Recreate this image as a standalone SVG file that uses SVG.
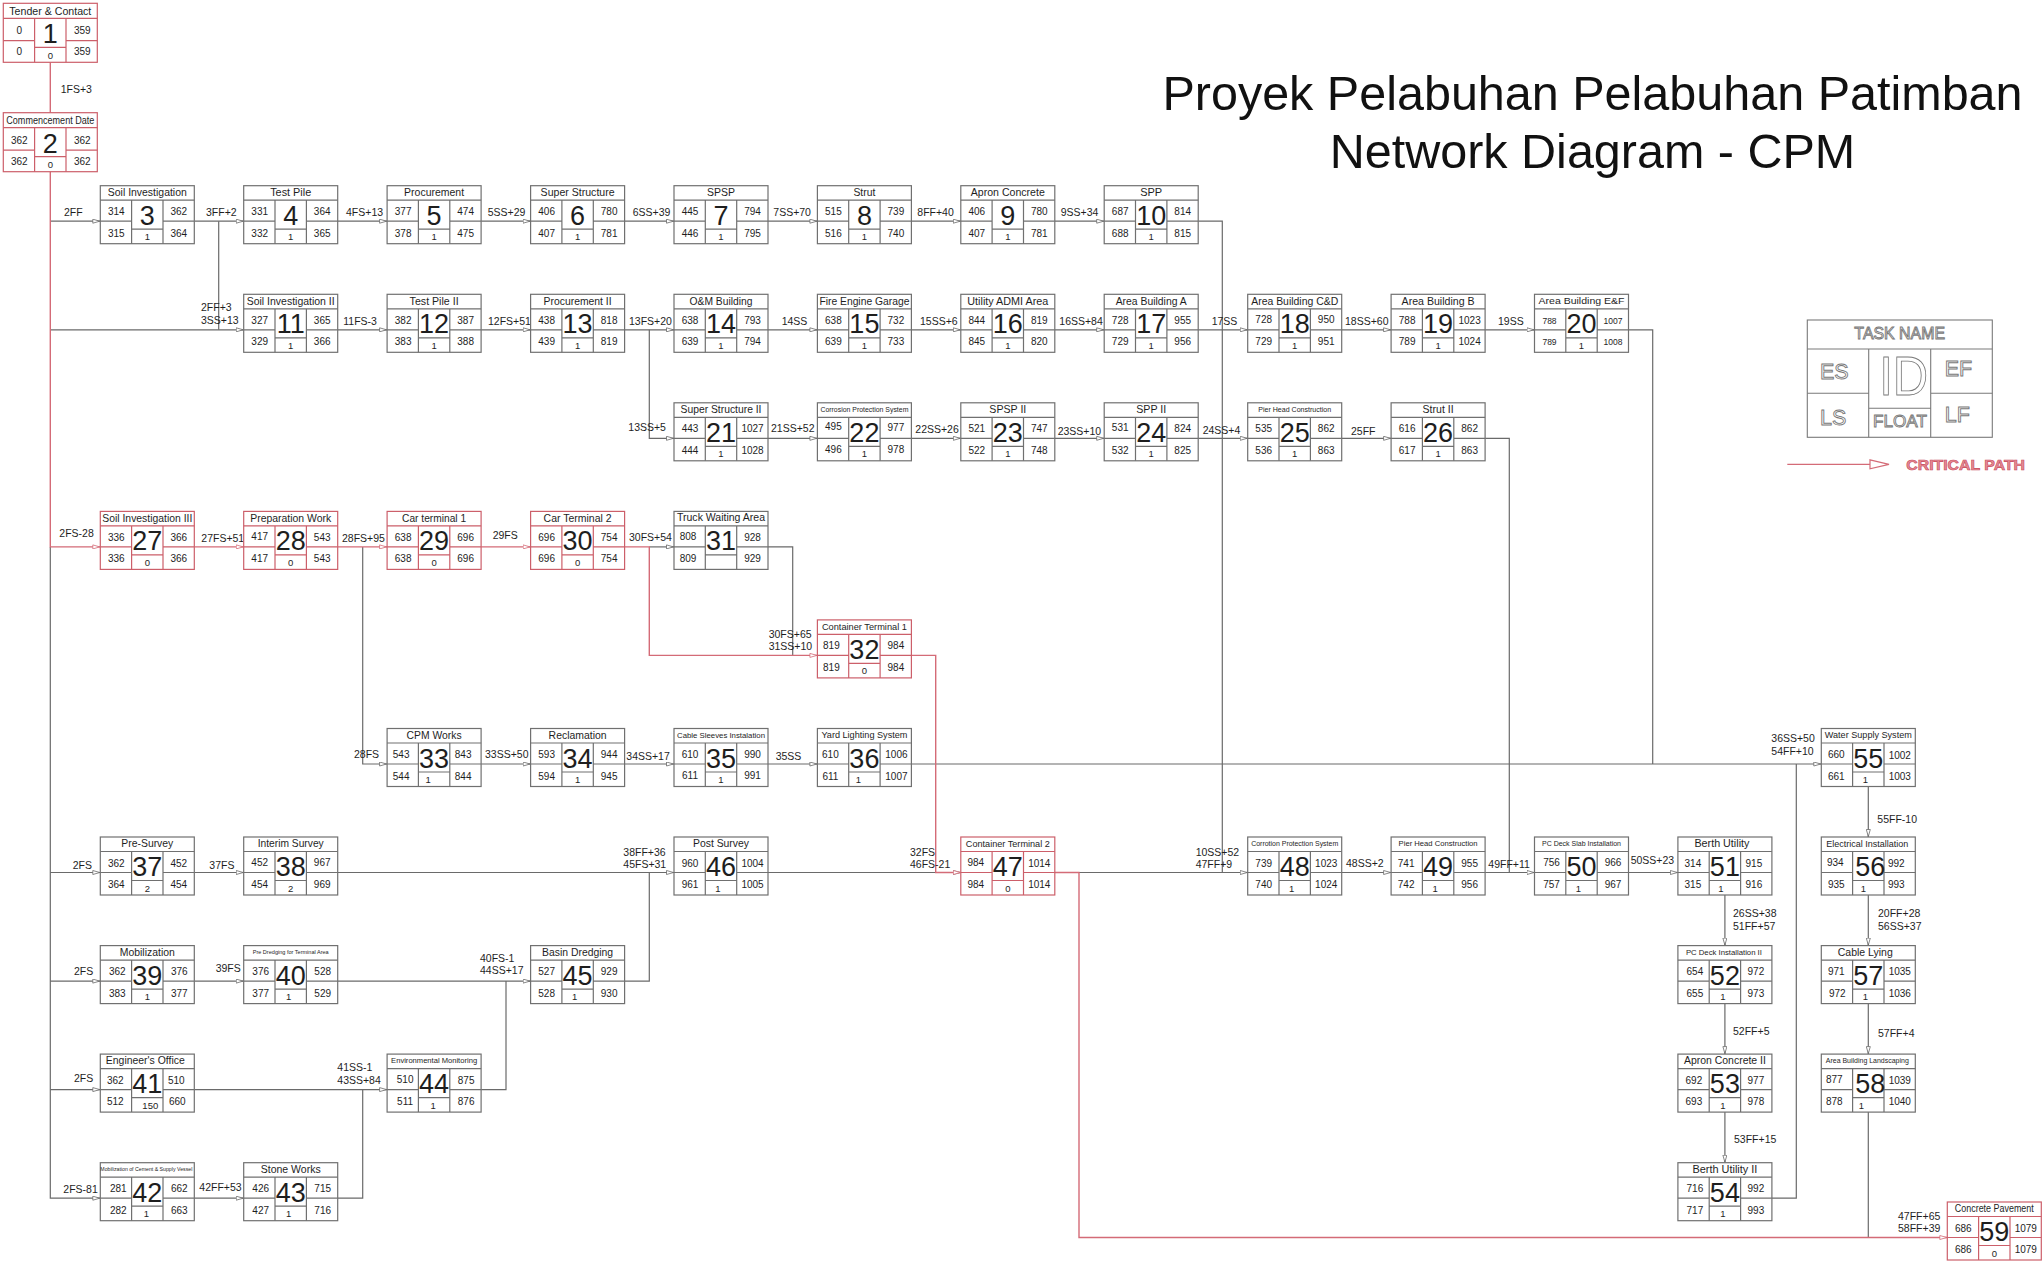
<svg xmlns="http://www.w3.org/2000/svg" width="2044" height="1271" viewBox="0 0 2044 1271">
<style>
text{font-family:"Liberation Sans",Arial,sans-serif;fill:#1e1e1e;stroke:none}
.f{fill:#fff;stroke:#707070;stroke-width:1.2}
.f.cr{stroke:#cc5f6a}
.k{fill:none;stroke:#6a6a6a;stroke-width:1.2}
.r{fill:none;stroke:#d46b77;stroke-width:1.4}
.t{font-size:10.5px;text-anchor:middle}
.v{font-size:10px;text-anchor:middle}
.id{font-size:27px;text-anchor:middle}
.fl{font-size:9.5px;text-anchor:middle}
.lb{font-size:10.5px}
.ttl{font-size:48.5px;text-anchor:middle;fill:#111}
.hol{fill:#fff;stroke:#777;stroke-width:0.9}
</style>
<defs>
<!-- standard activity box: title row, ES/EF, LS/LF, ID and float cells -->
<g id="fr">
<rect width="94" height="58"/>
<path d="M0 14.5H94M31.3 14.5V58M62.7 14.5V58M0 35.5H31.3M62.7 35.5H94M31.3 43.5H62.7" fill="none"/>
</g>
<g id="fr2">
<rect width="94" height="59"/>
<path d="M0 15H94M31.3 15V59M62.7 15V59M0 37.4H31.3M62.7 37.4H94M31.3 44H62.7" fill="none"/>
</g>
<marker id="ak" viewBox="0 0 8 5" refX="8" refY="2.5" markerWidth="8" markerHeight="5" orient="auto" markerUnits="userSpaceOnUse"><path d="M0.5 0.5L7.5 2.5L0.5 4.5Z" fill="#fff" stroke="#6a6a6a" stroke-width="0.8"/></marker>
<marker id="ar" viewBox="0 0 8 5" refX="8" refY="2.5" markerWidth="8" markerHeight="5" orient="auto" markerUnits="userSpaceOnUse"><path d="M0.5 0.5L7.5 2.5L0.5 4.5Z" fill="#fff" stroke="#d46b77" stroke-width="0.8"/></marker>
</defs>
<rect width="2044" height="1271" fill="#fff"/>

<!-- heading -->
<g id="heading">
<text class="ttl" x="1592.5" y="110">Proyek Pelabuhan Pelabuhan Patimban</text>
<text class="ttl" x="1592.5" y="168">Network Diagram - CPM</text>
</g>

<!-- dependency links -->
<g id="connectors">
<path class="k" d="M50.3 546.9V1198.2H100.3" marker-end="url(#ak)"/>
<path class="k" d="M50.3 221.2H100.3" marker-end="url(#ak)"/>
<path class="k" d="M50.3 329.8H243.7" marker-end="url(#ak)"/>
<path class="k" d="M50.3 872.5H100.3" marker-end="url(#ak)"/>
<path class="k" d="M50.3 981.1H100.3" marker-end="url(#ak)"/>
<path class="k" d="M50.3 1089.6H100.3" marker-end="url(#ak)"/>
<path class="k" d="M194.3 221.2H243.7" marker-end="url(#ak)"/>
<path class="k" d="M218.7 221.2V329.8"/>
<path class="k" d="M337.7 221.2H387.1" marker-end="url(#ak)"/>
<path class="k" d="M481.1 221.2H530.6" marker-end="url(#ak)"/>
<path class="k" d="M624.6 221.2H674" marker-end="url(#ak)"/>
<path class="k" d="M768 221.2H817.4" marker-end="url(#ak)"/>
<path class="k" d="M911.4 221.2H960.8" marker-end="url(#ak)"/>
<path class="k" d="M1054.8 221.2H1104.2" marker-end="url(#ak)"/>
<path class="k" d="M1198.2 221.2H1222.3V872.5"/>
<path class="k" d="M337.7 329.8H387.1" marker-end="url(#ak)"/>
<path class="k" d="M481.1 329.8H530.6" marker-end="url(#ak)"/>
<path class="k" d="M624.6 329.8H674" marker-end="url(#ak)"/>
<path class="k" d="M649.3 329.8V438.3H674" marker-end="url(#ak)"/>
<path class="k" d="M768 329.8H817.4" marker-end="url(#ak)"/>
<path class="k" d="M911.4 329.8H960.8" marker-end="url(#ak)"/>
<path class="k" d="M1054.8 329.8H1104.2" marker-end="url(#ak)"/>
<path class="k" d="M1198.2 329.8H1247.7" marker-end="url(#ak)"/>
<path class="k" d="M1341.7 329.8H1391.1" marker-end="url(#ak)"/>
<path class="k" d="M1485.1 329.8H1534.5" marker-end="url(#ak)"/>
<path class="k" d="M1628.5 329.8H1652.7V764"/>
<path class="k" d="M768 438.3H817.4" marker-end="url(#ak)"/>
<path class="k" d="M911.4 438.3H960.8" marker-end="url(#ak)"/>
<path class="k" d="M1054.8 438.3H1104.2" marker-end="url(#ak)"/>
<path class="k" d="M1198.2 438.3H1247.7" marker-end="url(#ak)"/>
<path class="k" d="M1341.7 438.3H1391.1" marker-end="url(#ak)"/>
<path class="k" d="M1485.1 438.3H1509.3V872.5"/>
<path class="k" d="M649.3 546.9H674" marker-end="url(#ak)"/>
<path class="k" d="M768 546.9H792.7V655.4"/>
<path class="k" d="M362.7 546.9V764H387.1" marker-end="url(#ak)"/>
<path class="k" d="M481.1 764H530.6" marker-end="url(#ak)"/>
<path class="k" d="M624.6 764H674" marker-end="url(#ak)"/>
<path class="k" d="M768 764H817.4" marker-end="url(#ak)"/>
<path class="k" d="M911.4 764H1821.3" marker-end="url(#ak)"/>
<path class="k" d="M194.3 872.5H243.7" marker-end="url(#ak)"/>
<path class="k" d="M337.7 872.5H674" marker-end="url(#ak)"/>
<path class="k" d="M624.6 981.1H649.3V872.5"/>
<path class="k" d="M768 872.5H960.8" marker-end="url(#ak)"/>
<path class="k" d="M1079 872.5H1247.7" marker-end="url(#ak)"/>
<path class="k" d="M1341.7 872.5H1391.1" marker-end="url(#ak)"/>
<path class="k" d="M1485.1 872.5H1534.5" marker-end="url(#ak)"/>
<path class="k" d="M1628.5 872.5H1677.9" marker-end="url(#ak)"/>
<path class="k" d="M1724.9 895V945.6" marker-end="url(#ak)"/>
<path class="k" d="M1724.9 1003.6V1054.1" marker-end="url(#ak)"/>
<path class="k" d="M1724.9 1112.1V1162.7" marker-end="url(#ak)"/>
<path class="k" d="M1771.9 1198.2H1796.3V764"/>
<path class="k" d="M1868.3 786.5V837" marker-end="url(#ak)"/>
<path class="k" d="M1868.3 895V945.6" marker-end="url(#ak)"/>
<path class="k" d="M1868.3 1003.6V1054.1" marker-end="url(#ak)"/>
<path class="k" d="M1868.3 1112.1V1237.5"/>
<path class="k" d="M194.3 981.1H243.7" marker-end="url(#ak)"/>
<path class="k" d="M337.7 981.1H530.6" marker-end="url(#ak)"/>
<path class="k" d="M481.1 1089.6H506V981.1"/>
<path class="k" d="M194.3 1089.6H387.1" marker-end="url(#ak)"/>
<path class="k" d="M337.7 1198.2H362.7V1089.6"/>
<path class="k" d="M194.3 1198.2H243.7" marker-end="url(#ak)"/>
<!-- critical path -->
<path class="r" d="M50.3 62.3V112.7"/>
<path class="r" d="M50.3 171.3V546.9H100.3" marker-end="url(#ar)"/>
<path class="r" d="M194.3 546.9H243.7" marker-end="url(#ar)"/>
<path class="r" d="M337.7 546.9H387.1" marker-end="url(#ar)"/>
<path class="r" d="M481.1 546.9H530.6" marker-end="url(#ar)"/>
<path class="r" d="M624.6 546.9H649.3V655.4H817.4" marker-end="url(#ar)"/>
<path class="r" d="M911.4 655.4H935.7V872.5H960.8" marker-end="url(#ar)"/>
<path class="r" d="M1054.8 872.5H1079V1237.5H1947.3" marker-end="url(#ar)"/>
</g>

<!-- lag labels on the links -->
<g id="connector-labels" class="lb">
<text x="60.7" y="93">1FS+3</text>
<text x="64" y="215.5">2FF</text>
<text x="206" y="215.5">3FF+2</text>
<text x="346" y="215.5">4FS+13</text>
<text x="487.7" y="215.5">5SS+29</text>
<text x="632.7" y="215.5">6SS+39</text>
<text x="773.3" y="215.5">7SS+70</text>
<text x="917.3" y="215.5">8FF+40</text>
<text x="1060.7" y="215.5">9SS+34</text>
<text x="201" y="311">2FF+3</text>
<text x="201" y="324.4">3SS+13</text>
<text x="343.3" y="324.5">11FS-3</text>
<text x="488" y="324.5">12FS+51</text>
<text x="629" y="324.5">13FS+20</text>
<text x="781.7" y="324.5">14SS</text>
<text x="920" y="324.5">15SS+6</text>
<text x="1059.3" y="324.5">16SS+84</text>
<text x="1211.7" y="324.5">17SS</text>
<text x="1345" y="324.5">18SS+60</text>
<text x="1498" y="324.5">19SS</text>
<text x="628.3" y="431">13SS+5</text>
<text x="771" y="431.5">21SS+52</text>
<text x="915.3" y="433">22SS+26</text>
<text x="1057.7" y="434.5">23SS+10</text>
<text x="1202.7" y="433.5">24SS+4</text>
<text x="1351" y="435">25FF</text>
<text x="59.3" y="537">2FS-28</text>
<text x="201.3" y="542">27FS+51</text>
<text x="342" y="542">28FS+95</text>
<text x="492.7" y="538.7">29FS</text>
<text x="629" y="541">30FS+54</text>
<text x="768.7" y="637.7">30FS+65</text>
<text x="768.7" y="650.4">31SS+10</text>
<text x="354" y="758">28FS</text>
<text x="485" y="758">33SS+50</text>
<text x="626.3" y="759.7">34SS+17</text>
<text x="775.7" y="759.7">35SS</text>
<text x="1771.3" y="742">36SS+50</text>
<text x="1771.3" y="754.7">54FF+10</text>
<text x="1877.3" y="823">55FF-10</text>
<text x="72.7" y="868.7">2FS</text>
<text x="209.3" y="868.7">37FS</text>
<text x="623.3" y="855.7">38FF+36</text>
<text x="623.3" y="868">45FS+31</text>
<text x="910" y="855.7">32FS</text>
<text x="910" y="868">46FS-21</text>
<text x="1195.7" y="855.7">10SS+52</text>
<text x="1195.7" y="868">47FF+9</text>
<text x="1346" y="867.4">48SS+2</text>
<text x="1488.3" y="868">49FF+11</text>
<text x="1630.7" y="864">50SS+23</text>
<text x="1733" y="917.4">26SS+38</text>
<text x="1733" y="930">51FF+57</text>
<text x="1878" y="917.4">20FF+28</text>
<text x="1878" y="930">56SS+37</text>
<text x="74" y="974.7">2FS</text>
<text x="215.7" y="972.4">39FS</text>
<text x="480" y="962">40FS-1</text>
<text x="480" y="974">44SS+17</text>
<text x="1733" y="1034.7">52FF+5</text>
<text x="1878" y="1037">57FF+4</text>
<text x="74" y="1082.4">2FS</text>
<text x="337.3" y="1071.4">41SS-1</text>
<text x="337.3" y="1084">43SS+84</text>
<text x="1734" y="1143">53FF+15</text>
<text x="63.3" y="1193">2FS-81</text>
<text x="199.3" y="1191.4">42FF+53</text>
<text x="1898" y="1219.7">47FF+65</text>
<text x="1898" y="1232.4">58FF+39</text>
</g>

<!-- activities -->
<g id="nodes">
<g id="n1" transform="translate(3.3 3.3)"><use href="#fr2" class="f cr"/><text class="t" style="font-size:11px" x="47" y="12" textLength="82" lengthAdjust="spacingAndGlyphs">Tender &amp; Contact</text><text class="v" x="16" y="31">0</text><text class="v" x="79" y="31">359</text><text class="id" x="47" y="39.5">1</text><text class="v" x="16" y="52">0</text><text class="fl" x="47" y="55.5">0</text><text class="v" x="79" y="52">359</text></g>
<g id="n2" transform="translate(3.3 112.7)"><use href="#fr2" class="f cr"/><text class="t" style="font-size:10px" x="47" y="11.5" textLength="88" lengthAdjust="spacingAndGlyphs">Commencement Date</text><text class="v" x="16" y="31">362</text><text class="v" x="79" y="31">362</text><text class="id" x="47" y="40.5">2</text><text class="v" x="16" y="52.5">362</text><text class="fl" x="47" y="55.5">0</text><text class="v" x="79" y="52.5">362</text></g>

<g id="n3" transform="translate(100.3 185.7)"><use href="#fr" class="f"/><text class="t" x="47" y="10.3" textLength="79" lengthAdjust="spacingAndGlyphs">Soil Investigation</text><text class="v" x="16" y="29.5">314</text><text class="v" x="78.5" y="29.5">362</text><text class="id" x="47" y="39">3</text><text class="v" x="16" y="51">315</text><text class="fl" x="47" y="54.5">1</text><text class="v" x="78.5" y="51">364</text></g>
<g id="n4" transform="translate(243.7 185.7)"><use href="#fr" class="f"/><text class="t" x="47" y="10.3" textLength="41" lengthAdjust="spacingAndGlyphs">Test Pile</text><text class="v" x="16" y="29.5">331</text><text class="v" x="78.5" y="29.5">364</text><text class="id" x="47" y="39">4</text><text class="v" x="16" y="51">332</text><text class="fl" x="47" y="54.5">1</text><text class="v" x="78.5" y="51">365</text></g>
<g id="n5" transform="translate(387.1 185.7)"><use href="#fr" class="f"/><text class="t" x="47" y="10.3" textLength="60" lengthAdjust="spacingAndGlyphs">Procurement</text><text class="v" x="16" y="29.5">377</text><text class="v" x="78.5" y="29.5">474</text><text class="id" x="47" y="39">5</text><text class="v" x="16" y="51">378</text><text class="fl" x="47" y="54.5">1</text><text class="v" x="78.5" y="51">475</text></g>
<g id="n6" transform="translate(530.6 185.7)"><use href="#fr" class="f"/><text class="t" x="47" y="10.3" textLength="74" lengthAdjust="spacingAndGlyphs">Super Structure</text><text class="v" x="16" y="29.5">406</text><text class="v" x="78.5" y="29.5">780</text><text class="id" x="47" y="39">6</text><text class="v" x="16" y="51">407</text><text class="fl" x="47" y="54.5">1</text><text class="v" x="78.5" y="51">781</text></g>
<g id="n7" transform="translate(674 185.7)"><use href="#fr" class="f"/><text class="t" x="47" y="10.3" textLength="28" lengthAdjust="spacingAndGlyphs">SPSP</text><text class="v" x="16" y="29.5">445</text><text class="v" x="78.5" y="29.5">794</text><text class="id" x="47" y="39">7</text><text class="v" x="16" y="51">446</text><text class="fl" x="47" y="54.5">1</text><text class="v" x="78.5" y="51">795</text></g>
<g id="n8" transform="translate(817.4 185.7)"><use href="#fr" class="f"/><text class="t" x="47" y="10.3" textLength="22" lengthAdjust="spacingAndGlyphs">Strut</text><text class="v" x="16" y="29.5">515</text><text class="v" x="78.5" y="29.5">739</text><text class="id" x="47" y="39">8</text><text class="v" x="16" y="51">516</text><text class="fl" x="47" y="54.5">1</text><text class="v" x="78.5" y="51">740</text></g>
<g id="n9" transform="translate(960.8 185.7)"><use href="#fr" class="f"/><text class="t" x="47" y="10.3" textLength="74" lengthAdjust="spacingAndGlyphs">Apron Concrete</text><text class="v" x="16" y="29.5">406</text><text class="v" x="78.5" y="29.5">780</text><text class="id" x="47" y="39">9</text><text class="v" x="16" y="51">407</text><text class="fl" x="47" y="54.5">1</text><text class="v" x="78.5" y="51">781</text></g>
<g id="n10" transform="translate(1104.2 185.7)"><use href="#fr" class="f"/><text class="t" x="47" y="10.3" textLength="22" lengthAdjust="spacingAndGlyphs">SPP</text><text class="v" x="16" y="29.5">687</text><text class="v" x="78.5" y="29.5">814</text><text class="id" x="47" y="39">10</text><text class="v" x="16" y="51">688</text><text class="fl" x="47" y="54.5">1</text><text class="v" x="78.5" y="51">815</text></g>

<g id="n11" transform="translate(243.7 294.3)"><use href="#fr" class="f"/><text class="t" x="47" y="10.3" textLength="88" lengthAdjust="spacingAndGlyphs">Soil Investigation II</text><text class="v" x="16" y="29.5">327</text><text class="v" x="78.5" y="29.5">365</text><text class="id" x="47" y="39">11</text><text class="v" x="16" y="51">329</text><text class="fl" x="47" y="54.5">1</text><text class="v" x="78.5" y="51">366</text></g>
<g id="n12" transform="translate(387.1 294.3)"><use href="#fr" class="f"/><text class="t" x="47" y="10.3" textLength="49" lengthAdjust="spacingAndGlyphs">Test Pile II</text><text class="v" x="16" y="29.5">382</text><text class="v" x="78.5" y="29.5">387</text><text class="id" x="47" y="39">12</text><text class="v" x="16" y="51">383</text><text class="fl" x="47" y="54.5">1</text><text class="v" x="78.5" y="51">388</text></g>
<g id="n13" transform="translate(530.6 294.3)"><use href="#fr" class="f"/><text class="t" x="47" y="10.3" textLength="68" lengthAdjust="spacingAndGlyphs">Procurement II</text><text class="v" x="16" y="29.5">438</text><text class="v" x="78.5" y="29.5">818</text><text class="id" x="47" y="39">13</text><text class="v" x="16" y="51">439</text><text class="fl" x="47" y="54.5">1</text><text class="v" x="78.5" y="51">819</text></g>
<g id="n14" transform="translate(674 294.3)"><use href="#fr" class="f"/><text class="t" x="47" y="10.3" textLength="63" lengthAdjust="spacingAndGlyphs">O&amp;M Building</text><text class="v" x="16" y="29.5">638</text><text class="v" x="78.5" y="29.5">793</text><text class="id" x="47" y="39">14</text><text class="v" x="16" y="51">639</text><text class="fl" x="47" y="54.5">1</text><text class="v" x="78.5" y="51">794</text></g>
<g id="n15" transform="translate(817.4 294.3)"><use href="#fr" class="f"/><text class="t" x="47" y="10.3" textLength="90" lengthAdjust="spacingAndGlyphs">Fire Engine Garage</text><text class="v" x="16" y="29.5">638</text><text class="v" x="78.5" y="29.5">732</text><text class="id" x="47" y="39">15</text><text class="v" x="16" y="51">639</text><text class="fl" x="47" y="54.5">1</text><text class="v" x="78.5" y="51">733</text></g>
<g id="n16" transform="translate(960.8 294.3)"><use href="#fr" class="f"/><text class="t" x="47" y="10.8" textLength="81" lengthAdjust="spacingAndGlyphs">Utility ADMI Area</text><text class="v" x="16" y="29.5">844</text><text class="v" x="78.5" y="29.5">819</text><text class="id" x="47" y="39">16</text><text class="v" x="16" y="51">845</text><text class="fl" x="47" y="54.5">1</text><text class="v" x="78.5" y="51">820</text></g>
<g id="n17" transform="translate(1104.2 294.3)"><use href="#fr" class="f"/><text class="t" x="47" y="10.3" textLength="71" lengthAdjust="spacingAndGlyphs">Area Building A</text><text class="v" x="16" y="29.5">728</text><text class="v" x="78.5" y="29.5">955</text><text class="id" x="47" y="39">17</text><text class="v" x="16" y="51">729</text><text class="fl" x="47" y="54.5">1</text><text class="v" x="78.5" y="51">956</text></g>
<g id="n18" transform="translate(1247.7 294.3)"><use href="#fr" class="f"/><text class="t" x="47" y="10.3" textLength="87" lengthAdjust="spacingAndGlyphs">Area Building C&amp;D</text><text class="v" x="16" y="29">728</text><text class="v" x="78.5" y="29">950</text><text class="id" x="47" y="39">18</text><text class="v" x="16" y="50.5">729</text><text class="fl" x="47" y="54.5">1</text><text class="v" x="78.5" y="50.5">951</text></g>
<g id="n19" transform="translate(1391.1 294.3)"><use href="#fr" class="f"/><text class="t" x="47" y="10.3" textLength="73" lengthAdjust="spacingAndGlyphs">Area Building B</text><text class="v" x="16" y="29.5">788</text><text class="v" x="78.5" y="29.5">1023</text><text class="id" x="47" y="39">19</text><text class="v" x="16" y="51">789</text><text class="fl" x="47" y="54.5">1</text><text class="v" x="78.5" y="51">1024</text></g>
<g id="n20" transform="translate(1534.5 294.3)"><use href="#fr" class="f"/><text class="t" style="font-size:9.5px" x="47" y="10" textLength="86" lengthAdjust="spacingAndGlyphs">Area Building E&amp;F</text><text class="v" style="font-size:8.5px" x="15" y="29.5">788</text><text class="v" style="font-size:8.5px" x="78.5" y="30">1007</text><text class="id" x="47" y="39">20</text><text class="v" style="font-size:8.5px" x="15" y="51">789</text><text class="fl" x="47" y="54.5">1</text><text class="v" style="font-size:8.5px" x="78.5" y="51">1008</text></g>

<g id="n21" transform="translate(674 402.8)"><use href="#fr" class="f"/><text class="t" x="47" y="10.3" textLength="81" lengthAdjust="spacingAndGlyphs">Super Structure II</text><text class="v" x="16" y="29.5">443</text><text class="v" x="78.5" y="29.5">1027</text><text class="id" x="47" y="39">21</text><text class="v" x="16" y="51">444</text><text class="fl" x="47" y="54.5">1</text><text class="v" x="78.5" y="51">1028</text></g>
<g id="n22" transform="translate(817.4 402.8)"><use href="#fr" class="f"/><text class="t" style="font-size:7px" x="47" y="8.8" textLength="88" lengthAdjust="spacingAndGlyphs">Corrosion Protection System</text><text class="v" x="16" y="27.5">495</text><text class="v" x="78.5" y="28.5">977</text><text class="id" x="47" y="39">22</text><text class="v" x="16" y="50">496</text><text class="fl" x="47" y="54.5">1</text><text class="v" x="78.5" y="50">978</text></g>
<g id="n23" transform="translate(960.8 402.8)"><use href="#fr" class="f"/><text class="t" x="47" y="10.3" textLength="37" lengthAdjust="spacingAndGlyphs">SPSP II</text><text class="v" x="16" y="29.5">521</text><text class="v" x="78.5" y="29.5">747</text><text class="id" x="47" y="39">23</text><text class="v" x="16" y="51">522</text><text class="fl" x="47" y="54.5">1</text><text class="v" x="78.5" y="51">748</text></g>
<g id="n24" transform="translate(1104.2 402.8)"><use href="#fr" class="f"/><text class="t" x="47" y="10.3" textLength="30" lengthAdjust="spacingAndGlyphs">SPP II</text><text class="v" x="16" y="28.5">531</text><text class="v" x="78.5" y="29.5">824</text><text class="id" x="47" y="39">24</text><text class="v" x="16" y="51">532</text><text class="fl" x="47" y="54.5">1</text><text class="v" x="78.5" y="51">825</text></g>
<g id="n25" transform="translate(1247.7 402.8)"><use href="#fr" class="f"/><text class="t" style="font-size:7px" x="47" y="8.8" textLength="73" lengthAdjust="spacingAndGlyphs">Pier Head Construction</text><text class="v" x="16" y="29">535</text><text class="v" x="78.5" y="29.5">862</text><text class="id" x="47" y="39">25</text><text class="v" x="16" y="51">536</text><text class="fl" x="47" y="54.5">1</text><text class="v" x="78.5" y="51">863</text></g>
<g id="n26" transform="translate(1391.1 402.8)"><use href="#fr" class="f"/><text class="t" x="47" y="10.3" textLength="31" lengthAdjust="spacingAndGlyphs">Strut II</text><text class="v" x="16" y="29">616</text><text class="v" x="78.5" y="29.5">862</text><text class="id" x="47" y="39">26</text><text class="v" x="16" y="51">617</text><text class="fl" x="47" y="54.5">1</text><text class="v" x="78.5" y="51">863</text></g>

<g id="n27" transform="translate(100.3 511.4)"><use href="#fr" class="f cr"/><text class="t" x="47" y="10.3" textLength="90" lengthAdjust="spacingAndGlyphs">Soil Investigation III</text><text class="v" x="16" y="29.5">336</text><text class="v" x="78.5" y="29.5">366</text><text class="id" x="47" y="39">27</text><text class="v" x="16" y="51">336</text><text class="fl" x="47" y="54.5">0</text><text class="v" x="78.5" y="51">366</text></g>
<g id="n28" transform="translate(243.7 511.4)"><use href="#fr" class="f cr"/><text class="t" x="47" y="10.3" textLength="81" lengthAdjust="spacingAndGlyphs">Preparation Work</text><text class="v" x="16" y="29">417</text><text class="v" x="78.5" y="29.5">543</text><text class="id" x="47" y="39">28</text><text class="v" x="16" y="51">417</text><text class="fl" x="47" y="54.5">0</text><text class="v" x="78.5" y="51">543</text></g>
<g id="n29" transform="translate(387.1 511.4)"><use href="#fr" class="f cr"/><text class="t" x="47" y="10.3" textLength="64" lengthAdjust="spacingAndGlyphs">Car terminal 1</text><text class="v" x="16" y="29.5">638</text><text class="v" x="78.5" y="29.5">696</text><text class="id" x="47" y="39">29</text><text class="v" x="16" y="51">638</text><text class="fl" x="47" y="54.5">0</text><text class="v" x="78.5" y="51">696</text></g>
<g id="n30" transform="translate(530.6 511.4)"><use href="#fr" class="f cr"/><text class="t" x="47" y="10.3" textLength="68" lengthAdjust="spacingAndGlyphs">Car Terminal 2</text><text class="v" x="16" y="29.5">696</text><text class="v" x="78.5" y="29.5">754</text><text class="id" x="47" y="39">30</text><text class="v" x="16" y="51">696</text><text class="fl" x="47" y="54.5">0</text><text class="v" x="78.5" y="51">754</text></g>
<g id="n31" transform="translate(674 511.4)"><use href="#fr" class="f"/><text class="t" style="font-size:10px" x="47" y="10" textLength="88" lengthAdjust="spacingAndGlyphs">Truck Waiting Area</text><text class="v" x="14" y="29">808</text><text class="v" x="78.5" y="29.5">928</text><text class="id" x="47" y="39">31</text><text class="v" x="14" y="51">809</text><text class="v" x="78.5" y="51">929</text></g>

<g id="n32" transform="translate(817.4 619.9)"><use href="#fr" class="f cr"/><text class="t" style="font-size:9.5px" x="47" y="9.8" textLength="85" lengthAdjust="spacingAndGlyphs">Container Terminal 1</text><text class="v" x="14" y="29.5">819</text><text class="v" x="78.5" y="29.5">984</text><text class="id" x="47" y="39">32</text><text class="v" x="14" y="51">819</text><text class="fl" x="47" y="54.5">0</text><text class="v" x="78.5" y="51">984</text></g>

<g id="n33" transform="translate(387.1 728.5)"><use href="#fr" class="f"/><text class="t" x="47" y="10.3" textLength="55" lengthAdjust="spacingAndGlyphs">CPM Works</text><text class="v" x="14" y="29.5">543</text><text class="v" x="76" y="29.5">843</text><text class="id" x="47" y="39">33</text><text class="v" x="14" y="51">544</text><text class="fl" x="41" y="54.5">1</text><text class="v" x="76" y="51">844</text></g>
<g id="n34" transform="translate(530.6 728.5)"><use href="#fr" class="f"/><text class="t" x="47" y="10.3" textLength="58" lengthAdjust="spacingAndGlyphs">Reclamation</text><text class="v" x="16" y="29.5">593</text><text class="v" x="78.5" y="29.5">944</text><text class="id" x="47" y="39">34</text><text class="v" x="16" y="51">594</text><text class="fl" x="47" y="54.5">1</text><text class="v" x="78.5" y="51">945</text></g>
<g id="n35" transform="translate(674 728.5)"><use href="#fr" class="f"/><text class="t" style="font-size:7.5px" x="47" y="9" textLength="88" lengthAdjust="spacingAndGlyphs">Cable Sleeves Instalation</text><text class="v" x="16" y="29">610</text><text class="v" x="78.5" y="29">990</text><text class="id" x="47" y="39">35</text><text class="v" x="16" y="50.5">611</text><text class="fl" x="47" y="54.5">1</text><text class="v" x="78.5" y="50.5">991</text></g>
<g id="n36" transform="translate(817.4 728.5)"><use href="#fr" class="f"/><text class="t" style="font-size:9px" x="47" y="9.6" textLength="86" lengthAdjust="spacingAndGlyphs">Yard Lighting System</text><text class="v" x="13" y="29.5">610</text><text class="v" x="79" y="29.5">1006</text><text class="id" x="47" y="39">36</text><text class="v" x="13" y="51">611</text><text class="fl" x="41" y="54.5">1</text><text class="v" x="79" y="51">1007</text></g>
<g id="n55" transform="translate(1821.3 728.5)"><use href="#fr" class="f"/><text class="t" style="font-size:9.5px" x="47" y="9.8" textLength="87" lengthAdjust="spacingAndGlyphs">Water Supply System</text><text class="v" x="15" y="29.5">660</text><text class="v" x="78.5" y="30">1002</text><text class="id" x="47" y="39">55</text><text class="v" x="15" y="51">661</text><text class="fl" x="44" y="54.5">1</text><text class="v" x="78.5" y="51.5">1003</text></g>

<g id="n37" transform="translate(100.3 837)"><use href="#fr" class="f"/><text class="t" x="47" y="10.3" textLength="52" lengthAdjust="spacingAndGlyphs">Pre-Survey</text><text class="v" x="16" y="29.5">362</text><text class="v" x="78.5" y="29.5">452</text><text class="id" x="47" y="39">37</text><text class="v" x="16" y="51">364</text><text class="fl" x="47" y="54.5">2</text><text class="v" x="78.5" y="51">454</text></g>
<g id="n38" transform="translate(243.7 837)"><use href="#fr" class="f"/><text class="t" x="47" y="10.3" textLength="66" lengthAdjust="spacingAndGlyphs">Interim Survey</text><text class="v" x="16" y="29">452</text><text class="v" x="78.5" y="29">967</text><text class="id" x="47" y="39">38</text><text class="v" x="16" y="51">454</text><text class="fl" x="47" y="54.5">2</text><text class="v" x="78.5" y="51">969</text></g>
<g id="n46" transform="translate(674 837)"><use href="#fr" class="f"/><text class="t" x="47" y="10.3" textLength="56" lengthAdjust="spacingAndGlyphs">Post Survey</text><text class="v" x="16" y="29.5">960</text><text class="v" x="78.5" y="29.5">1004</text><text class="id" x="47" y="39">46</text><text class="v" x="16" y="51">961</text><text class="fl" x="44" y="54.5">1</text><text class="v" x="78.5" y="51">1005</text></g>
<g id="n47" transform="translate(960.8 837)"><use href="#fr" class="f cr"/><text class="t" style="font-size:9.5px" x="47" y="9.8" textLength="84" lengthAdjust="spacingAndGlyphs">Container Terminal 2</text><text class="v" x="15" y="29">984</text><text class="v" x="78.5" y="29.5">1014</text><text class="id" x="47" y="39">47</text><text class="v" x="15" y="51">984</text><text class="fl" x="47" y="54.5">0</text><text class="v" x="78.5" y="51">1014</text></g>
<g id="n48" transform="translate(1247.7 837)"><use href="#fr" class="f"/><text class="t" style="font-size:7.5px" x="47" y="9" textLength="87" lengthAdjust="spacingAndGlyphs">Corrotion Protection System</text><text class="v" x="16" y="29.5">739</text><text class="v" x="78.5" y="29.5">1023</text><text class="id" x="47" y="39">48</text><text class="v" x="16" y="51">740</text><text class="fl" x="44" y="54.5">1</text><text class="v" x="78.5" y="51">1024</text></g>
<g id="n49" transform="translate(1391.1 837)"><use href="#fr" class="f"/><text class="t" style="font-size:7.5px" x="47" y="9" textLength="79" lengthAdjust="spacingAndGlyphs">Pier Head Construction</text><text class="v" x="15" y="29.5">741</text><text class="v" x="78.5" y="29.5">955</text><text class="id" x="47" y="39">49</text><text class="v" x="15" y="51">742</text><text class="fl" x="44" y="54.5">1</text><text class="v" x="78.5" y="51">956</text></g>
<g id="n50" transform="translate(1534.5 837)"><use href="#fr" class="f"/><text class="t" style="font-size:7px" x="47" y="8.8" textLength="79" lengthAdjust="spacingAndGlyphs">PC Deck Slab Installation</text><text class="v" x="17" y="29">756</text><text class="v" x="78.5" y="29">966</text><text class="id" x="47" y="39">50</text><text class="v" x="17" y="50.5">757</text><text class="fl" x="44" y="54.5">1</text><text class="v" x="78.5" y="50.5">967</text></g>
<g id="n51" transform="translate(1677.9 837)"><use href="#fr" class="f"/><text class="t" x="44" y="10.3" textLength="55" lengthAdjust="spacingAndGlyphs">Berth Utility</text><text class="v" x="15" y="29.5">314</text><text class="v" x="76" y="29.5">915</text><text class="id" x="47" y="39">51</text><text class="v" x="15" y="51">315</text><text class="fl" x="43" y="54.5">1</text><text class="v" x="76" y="51">916</text></g>
<g id="n56" transform="translate(1821.3 837)"><use href="#fr" class="f"/><text class="t" style="font-size:9px" x="46" y="9.6" textLength="82" lengthAdjust="spacingAndGlyphs">Electrical Installation</text><text class="v" x="14" y="29">934</text><text class="v" x="75" y="29.5">992</text><text class="id" x="49" y="39">56</text><text class="v" x="15" y="51">935</text><text class="fl" x="42" y="54.5">1</text><text class="v" x="75" y="51">993</text></g>

<g id="n39" transform="translate(100.3 945.6)"><use href="#fr" class="f"/><text class="t" x="47" y="10.3" textLength="55" lengthAdjust="spacingAndGlyphs">Mobilization</text><text class="v" x="17" y="29.5">362</text><text class="v" x="79" y="29.5">376</text><text class="id" x="47" y="39">39</text><text class="v" x="17" y="51">383</text><text class="fl" x="47" y="54.5">1</text><text class="v" x="79" y="51">377</text></g>
<g id="n40" transform="translate(243.7 945.6)"><use href="#fr" class="f"/><text class="t" style="font-size:5.5px" x="47" y="8.2" textLength="76" lengthAdjust="spacingAndGlyphs">Pre Dredging for Terminal Area</text><text class="v" x="17" y="29">376</text><text class="v" x="79" y="29.5">528</text><text class="id" x="47" y="39">40</text><text class="v" x="17" y="51">377</text><text class="fl" x="45" y="54.5">1</text><text class="v" x="79" y="51">529</text></g>
<g id="n45" transform="translate(530.6 945.6)"><use href="#fr" class="f"/><text class="t" x="47" y="10.3" textLength="71" lengthAdjust="spacingAndGlyphs">Basin Dredging</text><text class="v" x="16" y="29">527</text><text class="v" x="78.5" y="29.5">929</text><text class="id" x="47" y="39">45</text><text class="v" x="16" y="51">528</text><text class="fl" x="44" y="54.5">1</text><text class="v" x="78.5" y="51">930</text></g>
<g id="n52" transform="translate(1677.9 945.6)"><use href="#fr" class="f"/><text class="t" style="font-size:8px" x="46" y="9.2" textLength="76" lengthAdjust="spacingAndGlyphs">PC Deck Installation II</text><text class="v" x="17" y="29.5">654</text><text class="v" x="78" y="29.5">972</text><text class="id" x="47" y="39">52</text><text class="v" x="17" y="51">655</text><text class="fl" x="45" y="54.5">1</text><text class="v" x="78" y="51">973</text></g>
<g id="n57" transform="translate(1821.3 945.6)"><use href="#fr" class="f"/><text class="t" x="44" y="10.3" textLength="55" lengthAdjust="spacingAndGlyphs">Cable Lying</text><text class="v" x="15" y="29.5">971</text><text class="v" x="78.5" y="29.5">1035</text><text class="id" x="47" y="39">57</text><text class="v" x="16" y="51">972</text><text class="fl" x="44" y="54.5">1</text><text class="v" x="78.5" y="51">1036</text></g>

<g id="n41" transform="translate(100.3 1054.1)"><use href="#fr" class="f"/><text class="t" x="45" y="10.3" textLength="79" lengthAdjust="spacingAndGlyphs">Engineer's Office</text><text class="v" x="15" y="29.5">362</text><text class="v" x="76" y="29.5">510</text><text class="id" x="47" y="39">41</text><text class="v" x="15" y="51">512</text><text class="fl" x="50" y="55">150</text><text class="v" x="77" y="51">660</text></g>
<g id="n44" transform="translate(387.1 1054.1)"><use href="#fr" class="f"/><text class="t" style="font-size:7.5px" x="47" y="9" textLength="86" lengthAdjust="spacingAndGlyphs">Environmental Monitoring</text><text class="v" x="18" y="29">510</text><text class="v" x="79" y="29.5">875</text><text class="id" x="47" y="39">44</text><text class="v" x="18" y="51">511</text><text class="fl" x="46" y="54.5">1</text><text class="v" x="79" y="51">876</text></g>
<g id="n53" transform="translate(1677.9 1054.1)"><use href="#fr" class="f"/><text class="t" x="47" y="10.3" textLength="82" lengthAdjust="spacingAndGlyphs">Apron Concrete II</text><text class="v" x="16" y="29.5">692</text><text class="v" x="78" y="29.5">977</text><text class="id" x="47" y="39">53</text><text class="v" x="16" y="51">693</text><text class="fl" x="45" y="54.5">1</text><text class="v" x="78" y="51">978</text></g>
<g id="n58" transform="translate(1821.3 1054.1)"><use href="#fr" class="f"/><text class="t" style="font-size:7px" x="46" y="8.8" textLength="83" lengthAdjust="spacingAndGlyphs">Area Building Landscaping</text><text class="v" x="13" y="29">877</text><text class="v" x="78.5" y="29.5">1039</text><text class="id" x="49" y="39">58</text><text class="v" x="13" y="50.5">878</text><text class="fl" x="40" y="54.5">1</text><text class="v" x="78.5" y="51">1040</text></g>

<g id="n42" transform="translate(100.3 1162.7)"><use href="#fr" class="f"/><text class="t" style="font-size:5.5px" x="46" y="8.2" textLength="92" lengthAdjust="spacingAndGlyphs">Mobilization of Cement &amp; Supply Vessel</text><text class="v" x="18" y="29.5">281</text><text class="v" x="79" y="29.5">662</text><text class="id" x="47" y="39">42</text><text class="v" x="18" y="51">282</text><text class="fl" x="46" y="54.5">1</text><text class="v" x="79" y="51">663</text></g>
<g id="n43" transform="translate(243.7 1162.7)"><use href="#fr" class="f"/><text class="t" x="47" y="10.3" textLength="60" lengthAdjust="spacingAndGlyphs">Stone Works</text><text class="v" x="17" y="29.5">426</text><text class="v" x="79" y="29.5">715</text><text class="id" x="47" y="39">43</text><text class="v" x="17" y="51">427</text><text class="fl" x="45" y="54.5">1</text><text class="v" x="79" y="51">716</text></g>
<g id="n54" transform="translate(1677.9 1162.7)"><use href="#fr" class="f"/><text class="t" x="47" y="10.3" textLength="65" lengthAdjust="spacingAndGlyphs">Berth Utility II</text><text class="v" x="17" y="29.5">716</text><text class="v" x="78" y="29.5">992</text><text class="id" x="47" y="39">54</text><text class="v" x="17" y="51">717</text><text class="fl" x="45" y="54.5">1</text><text class="v" x="78" y="51">993</text></g>

<g id="n59" transform="translate(1947.3 1202)"><use href="#fr" class="f cr"/><text class="t" style="font-size:10px" x="47" y="10" textLength="79" lengthAdjust="spacingAndGlyphs">Concrete Pavement</text><text class="v" x="16" y="29.5">686</text><text class="v" x="78.5" y="29.5">1079</text><text class="id" x="47" y="39">59</text><text class="v" x="16" y="51">686</text><text class="fl" x="47" y="54.5">0</text><text class="v" x="78.5" y="51">1079</text></g>
</g>

<!-- key -->
<g id="legend">
<g fill="#fff" stroke="#7a7a7a" stroke-width="1.1">
<rect x="1807.3" y="320" width="185" height="117.3"/>
<path d="M1807.3 349H1992.3M1868.7 349V437.3M1930.7 349V437.3M1807.3 393.3H1868.7M1930.7 393.3H1992.3M1868.7 408.3H1930.7" fill="none"/>
</g>
<text class="hol" x="1899.7" y="338.5" font-size="16" text-anchor="middle" textLength="90.7" lengthAdjust="spacingAndGlyphs">TASK NAME</text>
<text class="hol" x="1820" y="379" font-size="21.5">ES</text>
<text class="hol" x="1944.7" y="376" font-size="21.5">EF</text>
<text class="hol" x="1820" y="425" font-size="21.5">LS</text>
<text class="hol" x="1944.7" y="422" font-size="21.5">LF</text>
<text class="hol" x="1903.7" y="395" font-size="55" text-anchor="middle" textLength="49" lengthAdjust="spacingAndGlyphs">ID</text>
<text class="hol" x="1900" y="427" font-size="17" text-anchor="middle" textLength="54" lengthAdjust="spacingAndGlyphs">FLOAT</text>
<path d="M1787.3 464.3H1870" fill="none" stroke="#d46b77" stroke-width="1.3"/>
<path d="M1870 459.8L1889 464.3L1870 468.8Z" fill="#fff" stroke="#d46b77" stroke-width="1.2"/>
<text x="1906.3" y="470" font-size="14.5" font-weight="bold" style="fill:#e58d96;stroke:#c8485a;stroke-width:0.6" textLength="118.7" lengthAdjust="spacingAndGlyphs">CRITICAL PATH</text>
</g>
</svg>
